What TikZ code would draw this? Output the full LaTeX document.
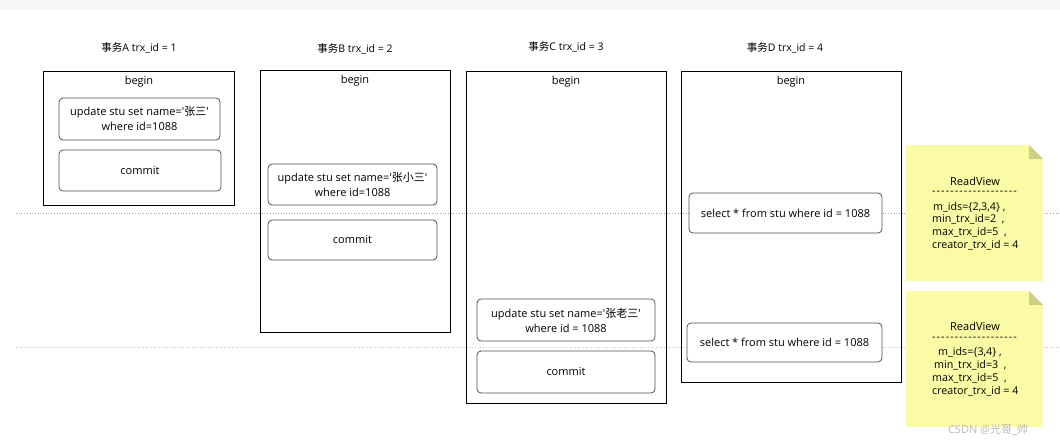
\documentclass[tikz,border=0pt]{standalone}
\usepackage{fontspec}
\newfontfamily\bodyfont{Open Sans}
\newfontfamily\cjk{Noto Sans CJK SC}
\definecolor{notefill}{HTML}{FBFBA6}
\definecolor{notefold}{HTML}{CFCF84}
\definecolor{boxline}{HTML}{505050}
\begin{document}
\begin{tikzpicture}[x=1pt,y=-1pt,
  every node/.style={font=\bodyfont\fontsize{11}{15}\selectfont, inner sep=0pt},
  bigbox/.style={draw=black, line width=0.8pt, anchor=north west},
  stepbox/.style={draw=boxline, line width=0.8pt, rounded corners=4pt, fill=white, align=center},
  ttl/.style={font=\bodyfont\fontsize{10.5}{12}\selectfont},
  notetext/.style={anchor=west, font=\bodyfont\fontsize{10.7}{12}\selectfont},
  dashrow/.style={anchor=west, font=\bodyfont\fontsize{10.7}{12}\selectfont\addfontfeatures{LetterSpace=10}},
  sepline/.style={dotted, line width=0.7pt}
]
\useasboundingbox (0,0) rectangle (1060,447);
\fill[gray!6] (0,0) rectangle (1060,9);

% titles
\node[ttl] (tA) at (139,48) {{\cjk 事务}A trx\_id = 1};
\node[ttl] (tB) at (355,49) {{\cjk 事务}B trx\_id = 2};
\node[ttl] (tC) at (566,47) {{\cjk 事务}C trx\_id = 3};
\node[ttl] (tD) at (785,48) {{\cjk 事务}D trx\_id = 4};

% transaction boxes
\node[bigbox, minimum width=191pt, minimum height=134pt] (A) at (43,71) {};
\node[bigbox, minimum width=190pt, minimum height=262pt] (B) at (260,70) {};
\node[bigbox, minimum width=200pt, minimum height=332pt] (C) at (466,71) {};
\node[bigbox, minimum width=220pt, minimum height=311pt] (D) at (681,71) {};

\node (bA) at (139,82) {begin};
\node (bB) at (355,81) {begin};
\node (bC) at (566,82) {begin};
\node (bD) at (791,82) {begin};

% separator lines
\coordinate (l1a) at (16,213);
\coordinate (l1b) at (1060,213);
\coordinate (l2a) at (16,347);
\coordinate (l2b) at (1060,347);
\draw[sepline, gray!75] (l1a) -- (l1b);
\draw[sepline, gray!45] (l2a) -- (l2b);

% statements
\node[stepbox, minimum width=161pt, minimum height=42pt] (uA) at (139.5,119) {update stu set name='{\cjk 张三}'\\where id=1088};
\node[stepbox, minimum width=162pt, minimum height=41pt] (cA) at (140,170.5) {commit};
\node[stepbox, minimum width=169pt, minimum height=41pt] (uB) at (352.5,184.5) {update stu set name='{\cjk 张小三}'\\where id=1088};
\node[stepbox, minimum width=169pt, minimum height=40pt] (cB) at (352.5,240) {commit};
\node[stepbox, minimum width=178pt, minimum height=42pt] (uC) at (566,320) {update stu set name='{\cjk 张老三}'\\where id = 1088};
\node[stepbox, minimum width=178pt, minimum height=42pt] (cC) at (566,372) {commit};
\node[stepbox, minimum width=193pt, minimum height=40pt] (sD1) at (785.5,213) {select * from stu where id = 1088};
\node[stepbox, minimum width=195pt, minimum height=39pt] (sD2) at (784.5,342.5) {select * from stu where id = 1088};

% note 1
\fill[notefill] (906,145) -- (1029,145) -- (1043,159) -- (1043,281) -- (906,281) -- cycle;
\fill[notefold] (1029,145) -- (1043,159) -- (1029,159) -- cycle;
\node (rv1) at (975,181) {ReadView};
\node[dashrow] (d1) at (932,193) {-------------------};
\node[notetext] (m1) at (933,207) {m\_ids=\{2,3,4\} ,};
\node[notetext] (n1) at (932,219.5) {min\_trx\_id=2 \ ,};
\node[notetext] (x1) at (932,232) {max\_trx\_id=5 \ ,};
\node[notetext] (c1) at (932,245) {creator\_trx\_id = 4};

% note 2
\fill[notefill] (906,291) -- (1029,291) -- (1043,305) -- (1043,427) -- (906,427) -- cycle;
\fill[notefold] (1029,291) -- (1043,305) -- (1029,305) -- cycle;
\node (rv2) at (975,326) {ReadView};
\node[dashrow] (d2) at (932,339) {-------------------};
\node[notetext] (m2) at (938,352) {m\_ids=\{3,4\} ,};
\node[notetext] (n2) at (934,365) {min\_trx\_id=3 \ ,};
\node[notetext] (x2) at (932,378) {max\_trx\_id=5 \ ,};
\node[notetext] (c2) at (932,391) {creator\_trx\_id = 4};

% watermark
\node[text=gray!55, font=\bodyfont\fontsize{11}{13}\selectfont] (wm) at (988,430) {CSDN @{\cjk 光哥}\_{\cjk 帅}};
\end{tikzpicture}
\end{document}
